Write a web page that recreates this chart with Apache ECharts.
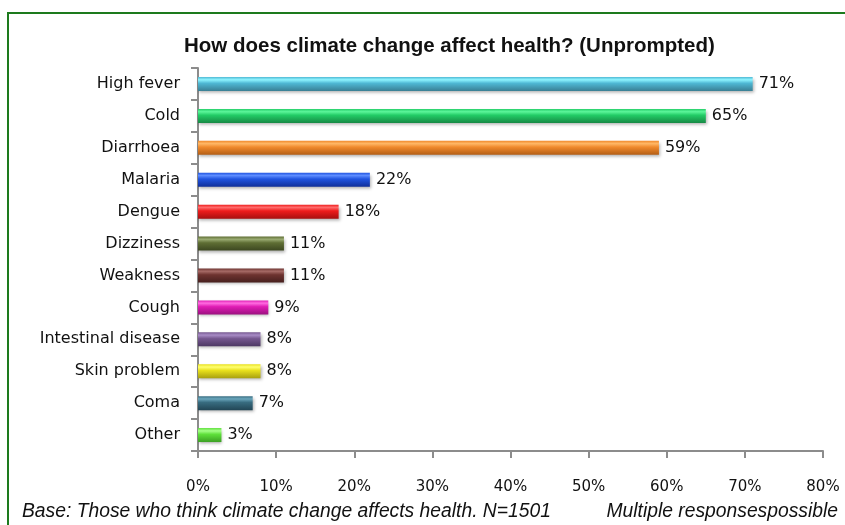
<!DOCTYPE html>
<html>
<head>
<meta charset="utf-8">
<script src="https://cdn.jsdelivr.net/npm/echarts@6/dist/echarts.min.js"></script>
<style>
  html, body { margin: 0; padding: 0; background: #fff; }
  #main { width: 845px; height: 525px; }
</style>
</head>
<body>
<div id="main"></div>
<script>
// categories and values
var categories = ['High fever', 'Cold', 'Diarrhoea', 'Malaria', 'Dengue', 'Dizziness',
  'Weakness', 'Cough', 'Intestinal disease', 'Skin problem', 'Coma', 'Other'];
var values = [71, 65, 59, 22, 18, 11, 11, 9, 8, 8, 7, 3];
var xTicks = [0, 10, 20, 30, 40, 50, 60, 70, 80];

// bar colours: [light top, main, dark bottom]
var barColors = [
  ['#8ff4ff', '#4fb8d4', '#3a7f94'],
  ['#5cf59a', '#22cc66', '#178a45'],
  ['#ffb765', '#f08a2c', '#b35d14'],
  ['#5c8cff', '#2054e0', '#0f2e99'],
  ['#ff6b6b', '#ee1c1c', '#a80f0f'],
  ['#9aab72', '#5f6e34', '#3c4720'],
  ['#a66a66', '#6e3330', '#47201e'],
  ['#ff6be0', '#e01cb4', '#9c1080'],
  ['#a88cc6', '#75578f', '#4d3863'],
  ['#ffff70', '#e8e01c', '#a8a010'],
  ['#6aa6bc', '#386c80', '#224656'],
  ['#a6ff8a', '#5ee03a', '#3ca024']
];

var chart = echarts.init(document.getElementById('main'));

var barData = values.map(function (v, i) {
  var c = barColors[i];
  return {
    value: v,
    itemStyle: {
      color: new echarts.graphic.LinearGradient(0, 0, 0, 1, [
        { offset: 0, color: c[1] },
        { offset: 0.2, color: c[0] },
        { offset: 0.45, color: c[1] },
        { offset: 1, color: c[2] }
      ])
    }
  };
});

var option = {
  animation: false,
  backgroundColor: '#fff',
  title: {
    text: 'How does climate change affect health? (Unprompted)',
    left: 179,
    top: 31,
    textStyle: {
      fontFamily: 'Liberation Sans',
      fontWeight: 'bold',
      fontSize: 20.5,
      color: '#111'
    }
  },
  grid: {
    left: 198,
    right: 22,
    top: 68,
    bottom: 74
  },
  xAxis: {
    type: 'value',
    min: 0,
    max: 80,
    interval: 10,
    splitLine: { show: false },
    axisLine: { show: true, lineStyle: { color: '#8c8c8c', width: 2 } },
    axisTick: { show: true, length: 7, lineStyle: { color: '#8c8c8c', width: 2 } },
    axisLabel: {
      margin: 29,
      fontFamily: 'DejaVu Sans',
      fontSize: 15,
      color: '#111',
      formatter: function (v) { return v + '%'; }
    }
  },
  yAxis: {
    type: 'category',
    data: categories,
    inverse: true,
    axisLine: { show: true, lineStyle: { color: '#8c8c8c', width: 2 } },
    axisTick: { show: true, length: 7, lineStyle: { color: '#8c8c8c', width: 2 } },
    axisLabel: {
      margin: 18,
      fontFamily: 'DejaVu Sans',
      fontSize: 16,
      color: '#111'
    }
  },
  series: [{
    type: 'bar',
    data: barData,
    barWidth: 14,
    itemStyle: {
      shadowBlur: 3,
      shadowColor: 'rgba(0,0,0,0.3)',
      shadowOffsetY: 2,
      shadowOffsetX: 1
    },
    label: {
      show: true,
      position: 'right',
      distance: 6,
      fontFamily: 'DejaVu Sans',
      fontSize: 16,
      color: '#111',
      formatter: '{c}%'
    }
  }],
  graphic: [
    {
      type: 'rect',
      shape: { x: 8, y: 13, width: 900, height: 600 },
      style: { fill: 'none', stroke: '#1d7a1d', lineWidth: 2 },
      silent: true
    },
    {
      type: 'text',
      left: 22,
      top: 502,
      style: {
        text: 'Base: Those who think climate change affects health. N=1501',
        font: 'italic 19.3px "Liberation Sans"',
        fill: '#111'
      }
    },
    {
      type: 'text',
      right: 7,
      top: 502,
      style: {
        text: 'Multiple responsespossible',
        font: 'italic 19.3px "Liberation Sans"',
        fill: '#111'
      }
    }
  ]
};

chart.setOption(option);
</script>
</body>
</html>
